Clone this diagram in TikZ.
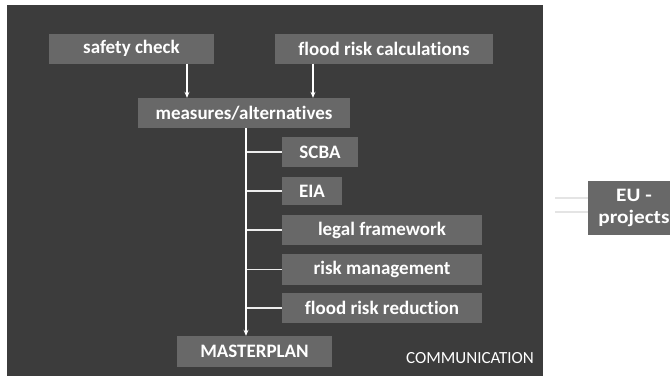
\documentclass[tikz,border=0pt]{standalone}
\usepackage{fontspec}
\setmainfont{Carlito}[Ligatures=NoCommon]
\newfontfamily\widefont{Carlito}[Ligatures=NoCommon, FakeStretch=1.12]
\usetikzlibrary{arrows.meta, positioning}

\definecolor{panelgray}{HTML}{3C3C3C}
\definecolor{boxgray}{HTML}{686868}
\definecolor{linkgray}{HTML}{E4E4E4}

\begin{document}
\begin{tikzpicture}[x=1pt, y=-1pt,
                    box/.style={rectangle, fill=boxgray, text=white, font=\fontsize{19}{22}\selectfont\bfseries, inner sep=0pt, minimum height=30pt},
                    arrow/.style={-{Stealth[length=6pt, width=5pt]}, white, line width=1.2pt},
                    branch/.style={white!85!gray, line width=1.2pt}
                ]
                \useasboundingbox (0,0) rectangle (670,380);
                \fill[panelgray] (7,5) rectangle (543,376);
                
                \node[box, minimum width=165pt] (safety) at (131.5,48.5) {safety check};
                \node[box, minimum width=218pt] (floodcalc) at (384,48.5) {flood risk calculations};
                \node[box, minimum width=212pt] (measures) at (244,113) {measures/alternatives};
                \node[box, minimum width=76pt] (scba) at (320,152) {SCBA};
                \node[box, minimum width=60pt, minimum height=28pt] (eia) at (312,191) {EIA};
                \node[box, minimum width=200pt] (legal) at (382,230) {legal framework};
                \node[box, minimum width=200pt, minimum height=31pt] (riskman) at (382,269.5) {risk management};
                \node[box, minimum width=200pt] (floodred) at (382,308) {flood risk reduction};
                \node[box, minimum width=155pt, minimum height=31pt] (master) at (254.5,351.5) {MASTERPLAN};
                \node[text=white, font=\fontsize{17}{20}\selectfont, anchor=center] (comm) at (470,358) {COMMUNICATION};
                \node[box, minimum width=92pt, minimum height=54pt, align=center, font=\widefont\fontsize{19}{22}\selectfont\bfseries] (eu) at (634,208) {EU -\\projects};
                
                \draw[arrow] (safety.south -| 187,0) -- (measures.north -| 187,0);
                \draw[arrow] (floodcalc.south -| 313,0) -- (measures.north -| 313,0);
                \draw[arrow] (measures.south -| 246,0) -- (master.north -| 246,0);
                \foreach \target in {scba, eia, legal, riskman, floodred}
                    \draw[branch] (247,0 |- \target.west) -- (\target.west);
                
                % faint links towards the EU box
                \coordinate (linkA) at (555,198);
                \coordinate (linkB) at (555,212);
                \draw[linkgray, line width=1.5pt] (linkA) -- (linkA -| eu.west);
                \draw[linkgray, line width=1.5pt] (linkB) -- (linkB -| eu.west);
                \end{tikzpicture}
\end{document}
